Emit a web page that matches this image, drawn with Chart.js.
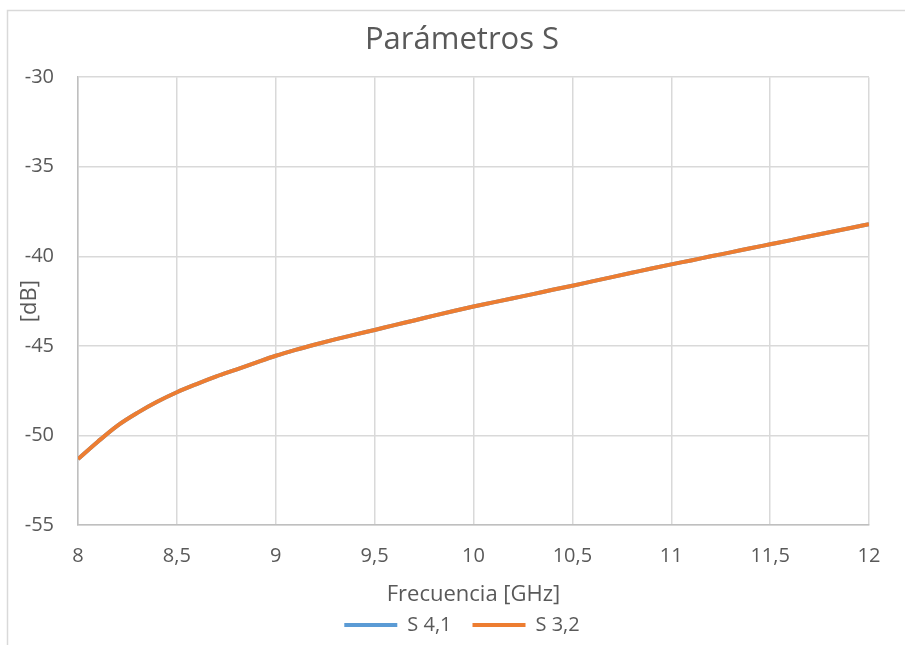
<!DOCTYPE html>
<html lang="es">
<head>
    <meta charset="UTF-8">
    <title>Parámetros S</title>
    <script src="https://cdn.jsdelivr.net/npm/chart.js"></script>
    <style>
        html, body { margin: 0; padding: 0; background: #fff; overflow: hidden; }
        canvas { display: block; }
    </style>
</head>
<body>
    <canvas id="sParamChart" width="924" height="645"></canvas>

    <script>
        // Frequency sweep [GHz]
        const freqGHz = [
            8.0, 8.1, 8.2, 8.3, 8.4, 8.5, 8.6, 8.7, 8.8, 8.9,
            9.0, 9.1, 9.2, 9.3, 9.4, 9.5, 9.6, 9.7, 9.8, 9.9,
            10.0, 10.1, 10.2, 10.3, 10.4, 10.5, 10.6, 10.7, 10.8, 10.9,
            11.0, 11.1, 11.2, 11.3, 11.4, 11.5, 11.6, 11.7, 11.8, 11.9, 12.0
        ];

        // S41 and S32 magnitude [dB]
        const s41 = [
            -51.32, -50.35, -49.45, -48.74, -48.12, -47.59, -47.13, -46.70, -46.32, -45.93,
            -45.55, -45.22, -44.92, -44.64, -44.37, -44.11, -43.84, -43.58, -43.31, -43.05,
            -42.80, -42.57, -42.34, -42.11, -41.87, -41.64, -41.40, -41.16, -40.92, -40.68,
            -40.45, -40.23, -40.00, -39.78, -39.55, -39.33, -39.11, -38.88, -38.66, -38.43, -38.21
        ];
        const s32 = [
            -51.32, -50.35, -49.45, -48.74, -48.12, -47.59, -47.13, -46.70, -46.32, -45.93,
            -45.55, -45.22, -44.92, -44.64, -44.37, -44.11, -43.84, -43.58, -43.31, -43.05,
            -42.80, -42.57, -42.34, -42.11, -41.87, -41.64, -41.40, -41.16, -40.92, -40.68,
            -40.45, -40.23, -40.00, -39.78, -39.55, -39.33, -39.11, -38.88, -38.66, -38.43, -38.21
        ];

        const xTickLabels = ['8', '8,5', '9', '9,5', '10', '10,5', '11', '11,5', '12'];
        const yTickLabels = ['-55', '-50', '-45', '-40', '-35', '-30'];

        const textColor = '#595959';
        const gridColor = '#d9d9d9';
        const axisColor = '#bfbfbf';

        Chart.defaults.font.family = '"Open Sans", sans-serif';
        Chart.defaults.color = textColor;

        // light frame around the whole chart
        const framePlugin = {
            id: 'frame',
            beforeDraw(chart) {
                const ctx = chart.ctx;
                ctx.save();
                ctx.fillStyle = '#fff';
                ctx.fillRect(0, 0, chart.width, chart.height);
                ctx.strokeStyle = gridColor;
                ctx.lineWidth = 1.5;
                ctx.beginPath();
                ctx.moveTo(7.5, chart.height);
                ctx.lineTo(7.5, 10.5);
                ctx.lineTo(chart.width, 10.5);
                ctx.stroke();
                ctx.restore();
            }
        };

        function toPoints(ys) {
            return freqGHz.map((f, i) => ({ x: f, y: ys[i] }));
        }

        const ctx = document.getElementById('sParamChart').getContext('2d');
        const chart = new Chart(ctx, {
            type: 'line',
            data: {
                datasets: [
                    {
                        label: 'S 4,1',
                        data: toPoints(s41),
                        borderColor: '#5b9bd5',
                        backgroundColor: '#5b9bd5',
                        borderWidth: 4,
                        pointRadius: 0,
                        pointBorderWidth: 4,
                        pointStyle: 'line',
                        cubicInterpolationMode: 'monotone',
                        order: 1
                    },
                    {
                        label: 'S 3,2',
                        data: toPoints(s32),
                        borderColor: '#ed7d31',
                        backgroundColor: '#ed7d31',
                        borderWidth: 4,
                        pointRadius: 0,
                        pointBorderWidth: 4,
                        pointStyle: 'line',
                        cubicInterpolationMode: 'monotone',
                        order: 0
                    }
                ]
            },
            options: {
                responsive: false,
                animation: false,
                events: [],
                layout: { padding: 0 },
                plugins: {
                    title: {
                        display: true,
                        text: 'Parámetros S',
                        color: textColor,
                        font: { size: 31, weight: 'normal' },
                        padding: { top: 22, bottom: 18 }
                    },
                    legend: {
                        position: 'bottom',
                        labels: {
                            usePointStyle: true,
                            pointStyleWidth: 53,
                            padding: 21,
                            color: textColor,
                            font: { size: 20 },
                            sort: (a, b) => a.datasetIndex - b.datasetIndex
                        }
                    },
                    tooltip: { enabled: false }
                },
                scales: {
                    x: {
                        type: 'linear',
                        min: 8,
                        max: 12,
                        ticks: {
                            stepSize: 0.5,
                            padding: 19,
                            color: textColor,
                            font: { size: 20 },
                            callback: (v, i) => xTickLabels[i]
                        },
                        grid: { color: gridColor, lineWidth: 1.5, drawTicks: false },
                        border: { color: axisColor, width: 1.5 },
                        title: {
                            display: true,
                            text: 'Frecuencia [GHz]',
                            color: textColor,
                            font: { size: 22 },
                            padding: { top: 0, bottom: -14 }
                        },
                        afterFit: s => { s.height = 69; }
                    },
                    y: {
                        min: -55,
                        max: -30,
                        ticks: {
                            stepSize: 5,
                            padding: 24,
                            color: textColor,
                            font: { size: 20 },
                            callback: (v, i) => yTickLabels[i]
                        },
                        grid: { color: gridColor, lineWidth: 1.5, drawTicks: false },
                        border: { color: axisColor, width: 1.5 },
                        title: {
                            display: true,
                            text: '[dB]',
                            color: textColor,
                            font: { size: 22 },
                            padding: { top: 17, bottom: 0 }
                        },
                        afterFit: s => { s.width = 78; }
                    },
                    // empty right-hand axis, only reserves the right margin
                    y2: {
                        position: 'right',
                        display: true,
                        grid: { display: false },
                        border: { display: false },
                        ticks: { display: false },
                        afterFit: s => { s.width = 55; }
                    }
                }
            },
            plugins: [framePlugin]
        });
    </script>
</body>
</html>
